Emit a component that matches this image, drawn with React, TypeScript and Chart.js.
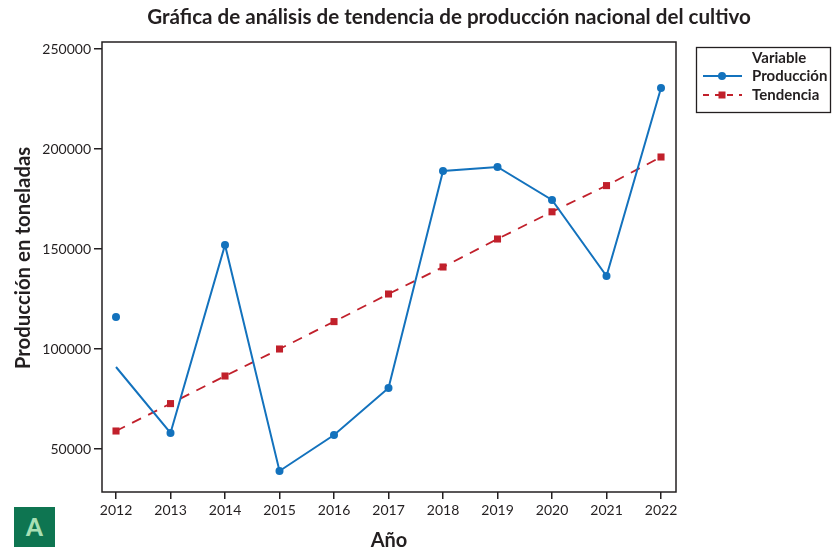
import React, { useEffect, useRef } from "react";
import { Chart, registerables } from "chart.js";
Chart.register(...registerables);

const years = [2012, 2013, 2014, 2015, 2016, 2017, 2018, 2019, 2020, 2021, 2022];
const produccion = [116000, 58000, 152000, 39000, 57000, 80500, 189000, 191000, 174500, 136500, 230500];
const produccionTrazo = [91000, 58000, 152000, 39000, 57000, 80500, 189000, 191000, 174500, 136500, 230500];
const tendencia = [59000, 72700, 86500, 100000, 113700, 127500, 141000, 155000, 168600, 181700, 196000];
const yTicks = [50000, 100000, 150000, 200000, 250000];

const TITLE = "Gráfica de análisis de tendencia de producción nacional del cultivo";
const X_TITLE = "Año";
const Y_TITLE = "Producción en toneladas";
const LEGEND_TITLE = "Variable";
const LEGEND_PROD = "Producción";
const LEGEND_TEND = "Tendencia";

const BLUE = "#1372BD";
const RED = "#C1202B";
const TEXT = "#231F20";
const FONT = "Lato, 'Open Sans', sans-serif";

const overlay = {
  id: "overlay",
  afterDraw(chart: any) {
    const ctx = chart.ctx;
    const { left, top, right, bottom } = chart.chartArea;
    ctx.save();
    ctx.strokeStyle = TEXT;
    ctx.lineWidth = 1.5;
    ctx.strokeRect(left, top, right - left, bottom - top);

    ctx.fillStyle = TEXT;
    ctx.textBaseline = "middle";
    ctx.textAlign = "center";
    ctx.font = `bold 20.6px ${FONT}`;
    ctx.fillText(TITLE, 449, 17);

    ctx.font = `bold 20px ${FONT}`;
    ctx.fillText(X_TITLE, (left + right) / 2, 541);

    ctx.save();
    ctx.translate(23, 258);
    ctx.rotate(-Math.PI / 2);
    ctx.font = `bold 20.4px ${FONT}`;
    ctx.fillText(Y_TITLE, 0, 0);
    ctx.restore();

    // legend
    ctx.lineWidth = 1.3;
    ctx.strokeRect(696.5, 47.5, 134, 65);
    ctx.textAlign = "left";
    ctx.font = `bold 15px ${FONT}`;
    ctx.fillText(LEGEND_TITLE, 752, 58);
    ctx.fillText(LEGEND_PROD, 752, 76);
    ctx.fillText(LEGEND_TEND, 752, 95);

    ctx.strokeStyle = BLUE;
    ctx.lineWidth = 2;
    ctx.beginPath();
    ctx.moveTo(703, 76);
    ctx.lineTo(742, 76);
    ctx.stroke();
    ctx.fillStyle = BLUE;
    ctx.beginPath();
    ctx.arc(722, 76, 4, 0, Math.PI * 2);
    ctx.fill();

    ctx.strokeStyle = RED;
    ctx.setLineDash([6, 6]);
    ctx.beginPath();
    ctx.moveTo(703, 95);
    ctx.lineTo(742, 95);
    ctx.stroke();
    ctx.setLineDash([]);
    ctx.fillStyle = RED;
    ctx.fillRect(718.5, 91.5, 7, 7);
    ctx.restore();
  },
};

export default function App() {
  const ref = useRef<HTMLCanvasElement>(null);
  useEffect(() => {
    if (!ref.current) return;
    const chart = new Chart(ref.current, {
      type: "line",
      data: {
        datasets: [
          {
            label: "ProducciónTrazo",
            data: years.map((x, i) => ({ x, y: produccionTrazo[i] })),
            borderColor: BLUE,
            borderWidth: 2,
            pointRadius: 0,
            fill: false,
            tension: 0,
          },
          {
            label: LEGEND_PROD,
            data: years.map((x, i) => ({ x, y: produccion[i] })),
            showLine: false,
            pointRadius: 4,
            pointBackgroundColor: BLUE,
            pointBorderWidth: 0,
            borderColor: BLUE,
          },
          {
            label: LEGEND_TEND,
            data: years.map((x, i) => ({ x, y: tendencia[i] })),
            borderColor: RED,
            borderWidth: 1.8,
            borderDash: [10, 8],
            pointStyle: "rect",
            pointRadius: 5,
            pointBackgroundColor: RED,
            pointBorderWidth: 0,
            fill: false,
            tension: 0,
          },
        ],
      },
      options: {
        animation: false,
        responsive: false,
        layout: { padding: { top: 42, right: 156, left: 0, bottom: 0 } },
        plugins: { legend: { display: false }, title: { display: false }, tooltip: { enabled: false } },
        scales: {
          x: {
            type: "linear",
            min: 2011.743,
            max: 2022.275,
            afterFit: (s: any) => { s.height = 61; },
            afterBuildTicks: (s: any) => { s.ticks = years.map((v) => ({ value: v })); },
            ticks: { callback: (v: any) => String(v), color: TEXT, font: { family: FONT, size: 14 }, padding: 3, maxRotation: 0, autoSkip: false },
            grid: { drawOnChartArea: false, drawTicks: true, tickLength: 7, color: TEXT, lineWidth: 1.5 },
            border: { display: false },
          },
          y: {
            type: "linear",
            min: 28500,
            max: 253500,
            afterFit: (s: any) => { s.width = 102; },
            afterBuildTicks: (s: any) => { s.ticks = yTicks.map((v) => ({ value: v })); },
            ticks: { callback: (v: any) => String(v), color: TEXT, font: { family: FONT, size: 14 }, padding: 3 },
            grid: { drawOnChartArea: false, drawTicks: true, tickLength: 8, color: TEXT, lineWidth: 1.5 },
            border: { display: false },
          },
        },
      },
      plugins: [overlay],
    });
    return () => chart.destroy();
  }, []);
  return (
    <div style={{ position: "fixed", left: 0, top: 0, width: 832, height: 553, background: "#fff" }}>
      <canvas ref={ref} width={832} height={553} style={{ width: 832, height: 553, display: "block" }} />
      <div
        style={{
          position: "absolute",
          left: 14,
          top: 507,
          width: 41,
          height: 40,
          background: "#0E7551",
          color: "#A9E0B5",
          fontFamily: FONT,
          fontWeight: 900,
          fontSize: 24,
          lineHeight: "40px",
          textAlign: "center",
        }}
      >
        A
      </div>
    </div>
  );
}
